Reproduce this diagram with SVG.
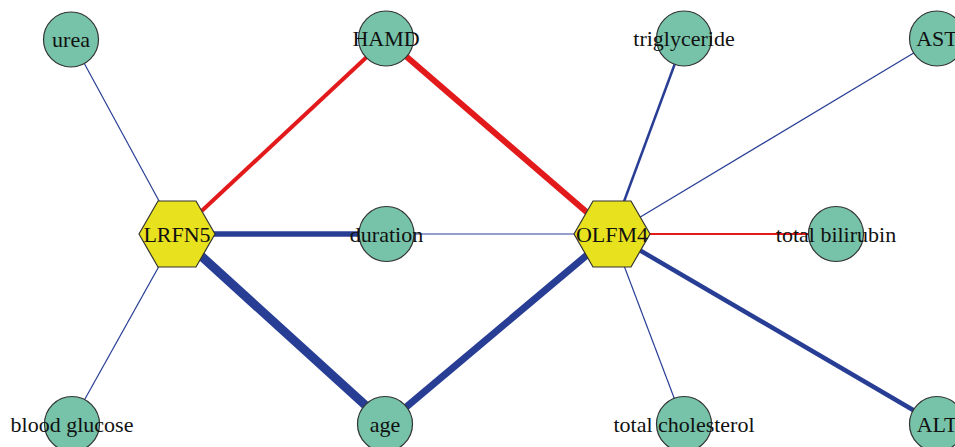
<svg xmlns="http://www.w3.org/2000/svg" width="955" height="447" viewBox="0 0 955 447">
<style>
.n circle{fill:#76C3A9;stroke:#333;stroke-width:1.2}
.n polygon{fill:#E8E11E;stroke:#333;stroke-width:1.2}
text{font-family:"Liberation Serif","Times New Roman",serif;font-size:22px;fill:#111;text-anchor:middle}
.b{stroke:#283E95;fill:none}
.r{stroke:#E31A1C;fill:none}
</style>
<rect width="955" height="447" fill="#fff"/>
<g id="edges">
<line class="b" x1="177" y1="234" x2="71" y2="39" stroke-width="1.2"/>
<line class="b" x1="177" y1="234" x2="71" y2="424" stroke-width="1.2"/>
<line class="r" x1="177" y1="234" x2="386" y2="39" stroke-width="4"/>
<line class="b" x1="177" y1="234" x2="386" y2="234" stroke-width="5.5"/>
<line class="b" x1="177" y1="234" x2="386" y2="424" stroke-width="9"/>
<line class="r" x1="612" y1="234" x2="386" y2="39" stroke-width="6"/>
<line class="b" x1="612" y1="234" x2="386" y2="234" stroke-width="1.2"/>
<line class="b" x1="612" y1="234" x2="386" y2="424" stroke-width="7"/>
<line class="b" x1="612" y1="234" x2="684" y2="39" stroke-width="2.5"/>
<line class="b" x1="612" y1="234" x2="937" y2="39" stroke-width="1.2"/>
<line class="r" x1="612" y1="234" x2="836" y2="234" stroke-width="2.2"/>
<line class="b" x1="612" y1="234" x2="684" y2="424" stroke-width="1.2"/>
<line class="b" x1="612" y1="234" x2="937" y2="424" stroke-width="4.5"/>
</g>
<g id="urea" class="n"><circle cx="71" cy="39.5" r="27.5"/><text x="71" y="47">urea</text></g>
<g id="HAMD" class="n"><circle cx="386" cy="38.5" r="27.5"/><text x="386" y="46">HAMD</text></g>
<g id="triglyceride" class="n"><circle cx="684" cy="38.5" r="27.5"/><text x="684" y="46">triglyceride</text></g>
<g id="AST" class="n"><circle cx="937" cy="38.5" r="27.5"/><text x="937" y="46">AST</text></g>
<g id="LRFN5" class="n"><polygon points="139,234 158,201 196,201 215,234 196,267 158,267"/><text x="177" y="241.5">LRFN5</text></g>
<g id="duration" class="n"><circle cx="386.5" cy="234" r="27.5"/><text x="386.5" y="241.5">duration</text></g>
<g id="OLFM4" class="n"><polygon points="574,234 593,201 631,201 650,234 631,267 593,267"/><text x="612" y="241.5">OLFM4</text></g>
<g id="total_bilirubin" class="n"><circle cx="836" cy="234" r="27.5"/><text x="836" y="241.5">total bilirubin</text></g>
<g id="blood_glucose" class="n"><circle cx="72" cy="424" r="27.5"/><text x="72" y="431.5">blood glucose</text></g>
<g id="age" class="n"><circle cx="385" cy="424" r="27.5"/><text x="385" y="431.5">age</text></g>
<g id="total_cholesterol" class="n"><circle cx="684" cy="424" r="27.5"/><text x="684" y="431.5">total cholesterol</text></g>
<g id="ALT" class="n"><circle cx="937" cy="424" r="27.5"/><text x="937" y="431.5">ALT</text></g>
</svg>
